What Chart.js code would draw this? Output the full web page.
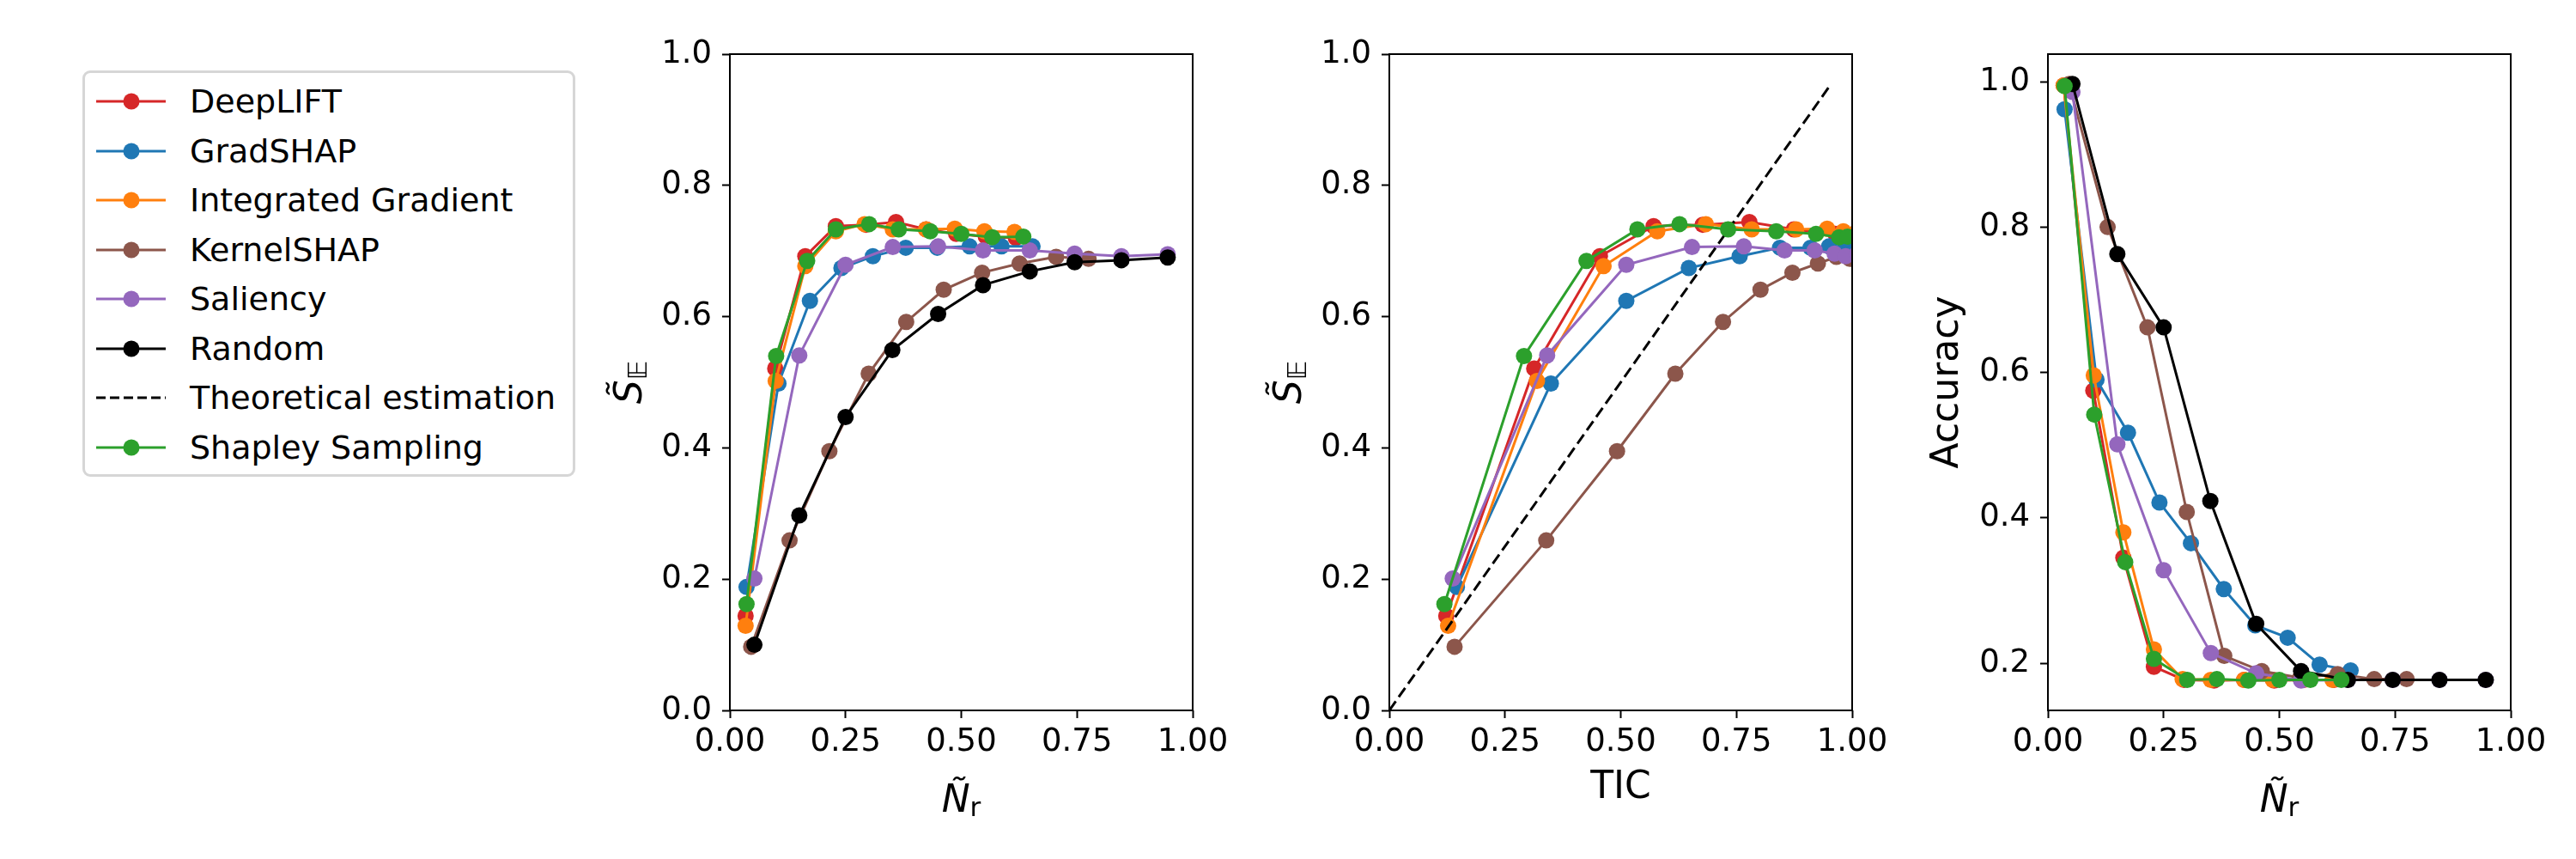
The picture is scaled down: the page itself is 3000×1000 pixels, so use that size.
<!DOCTYPE html>
<html>
<head>
<meta charset="utf-8">
<script src="https://cdn.jsdelivr.net/npm/chart.js@4.4.1/dist/chart.umd.min.js"></script>
<style>
html, body { margin: 0; padding: 0; background: #fff; }
#wrap { position: relative; width: 3000px; height: 1000px; overflow: hidden; background: #fff; font-family: "DejaVu Sans", sans-serif; }
#wrap canvas { position: absolute; top: 0; width: 800px; height: 1000px; }
#legend { position: absolute; left: 96px; top: 82px; width: 574px; height: 473px; box-sizing: border-box;
  border: 3px solid #d6d6d6; border-radius: 9px; background: #fff; }
.lrow { position: absolute; left: 0; height: 50px; width: 100%; }
.lrow svg { position: absolute; left: 10px; top: 0; }
.lrow span { position: absolute; left: 122px; top: 0; line-height: 50px; font-size: 38px; color: #000; white-space: nowrap; font-family: "DejaVu Sans", sans-serif; }
</style>
</head>
<body>
<div id="wrap">
  <canvas id="c1" width="800" height="1000" style="left:650px"></canvas>
  <canvas id="c2" width="800" height="1000" style="left:1418px"></canvas>
  <canvas id="c3" width="800" height="1000" style="left:2185px"></canvas>
  <div id="legend"></div>
</div>
<script>
// ---------- data ----------
const methodNames  = ['DeepLIFT', 'GradSHAP', 'Integrated Gradient', 'KernelSHAP', 'Saliency', 'Random', 'Shapley Sampling'];
const methodColors = ['#d62728', '#1f77b4', '#ff7f0e', '#8c564b', '#9467bd', '#000000', '#2ca02c'];
const theoName  = 'Theoretical estimation';

// normalized number of removed features (x of panels 1 and 3)
const nrDeepLIFT   = [0.034, 0.098, 0.163, 0.229, 0.294, 0.359, 0.424, 0.489, 0.553, 0.618];
const nrGradSHAP   = [0.036, 0.105, 0.173, 0.241, 0.309, 0.380, 0.448, 0.518, 0.587, 0.654];
const nrIG         = [0.034, 0.099, 0.163, 0.229, 0.291, 0.352, 0.424, 0.486, 0.550, 0.615];
const nrKernelSHAP = [0.046, 0.129, 0.215, 0.300, 0.381, 0.462, 0.545, 0.626, 0.705, 0.775];
const nrSaliency   = [0.053, 0.150, 0.250, 0.352, 0.450, 0.547, 0.648, 0.745, 0.846, 0.946];
const nrRandom     = [0.053, 0.150, 0.250, 0.351, 0.450, 0.547, 0.648, 0.745, 0.846, 0.946];
const nrShapley    = [0.036, 0.100, 0.167, 0.229, 0.301, 0.365, 0.433, 0.500, 0.567, 0.634];

// S_E values (y of panels 1 and 2)
const seDeepLIFT   = [0.144, 0.521, 0.692, 0.738, 0.740, 0.744, 0.733, 0.726, 0.722, 0.720];
const seGradSHAP   = [0.188, 0.498, 0.624, 0.674, 0.692, 0.705, 0.705, 0.707, 0.707, 0.707];
const seIG         = [0.129, 0.502, 0.677, 0.730, 0.741, 0.733, 0.733, 0.734, 0.730, 0.729];
const seKernelSHAP = [0.097, 0.259, 0.395, 0.513, 0.592, 0.641, 0.667, 0.681, 0.691, 0.688];
const seSaliency   = [0.201, 0.541, 0.679, 0.706, 0.707, 0.701, 0.701, 0.696, 0.692, 0.695];
const seRandom     = [0.100, 0.297, 0.447, 0.549, 0.604, 0.648, 0.669, 0.683, 0.686, 0.690];
const seShapley    = [0.162, 0.540, 0.685, 0.733, 0.741, 0.733, 0.730, 0.726, 0.721, 0.722];

// TIC values (x of panel 2)
const ticDeepLIFT   = [0.123, 0.313, 0.455, 0.571, 0.677, 0.778, 0.874, 0.964, 1.050, 1.130];
const ticGradSHAP   = [0.146, 0.349, 0.512, 0.647, 0.757, 0.844, 0.910, 0.950, 0.985, 1.010];
const ticIG         = [0.127, 0.319, 0.463, 0.579, 0.684, 0.783, 0.879, 0.946, 0.981, 1.010];
const ticKernelSHAP = [0.141, 0.339, 0.492, 0.618, 0.721, 0.802, 0.871, 0.926, 0.966, 0.995];
const ticSaliency   = [0.137, 0.341, 0.512, 0.654, 0.766, 0.854, 0.919, 0.962, 0.986, 1.010];
const ticShapley    = [0.119, 0.291, 0.426, 0.536, 0.627, 0.732, 0.836, 0.922, 0.972, 0.990];
const theoX = [0.0, 0.95];
const theoY = [0.0, 0.95];

// accuracy values (y of panel 3)
const accDeepLIFT   = [0.995, 0.575, 0.345, 0.195, 0.177, 0.176, 0.177, 0.176, 0.177, 0.177];
const accGradSHAP   = [0.962, 0.590, 0.517, 0.421, 0.365, 0.302, 0.252, 0.235, 0.198, 0.190];
const accIG         = [0.995, 0.596, 0.380, 0.219, 0.178, 0.177, 0.177, 0.177, 0.177, 0.177];
const accKernelSHAP = [0.997, 0.800, 0.662, 0.408, 0.210, 0.189, 0.180, 0.185, 0.178, 0.178];
const accSaliency   = [0.986, 0.501, 0.328, 0.214, 0.186, 0.176, 0.177, 0.177, 0.177, 0.177];
const accRandom     = [0.997, 0.763, 0.662, 0.423, 0.254, 0.189, 0.177, 0.177, 0.177, 0.177];
const accShapley    = [0.994, 0.542, 0.339, 0.206, 0.177, 0.178, 0.176, 0.177, 0.177, 0.177];

// ticks
const xTickValues = [0, 0.25, 0.5, 0.75, 1.0];
const xTickLabels = ['0.00', '0.25', '0.50', '0.75', '1.00'];
const yTickValues = [0, 0.2, 0.4, 0.6, 0.8, 1.0];
const yTickLabels = ['0.0', '0.2', '0.4', '0.6', '0.8', '1.0'];
const accTickValues = [0.2, 0.4, 0.6, 0.8, 1.0];
const accTickLabels = ['0.2', '0.4', '0.6', '0.8', '1.0'];
const accRange = [0.135, 1.038];

// axis titles
const labelNr  = [{ t: 'N\u0303', font: 'italic 44px "DejaVu Sans"' }, { t: 'r', font: '31px "DejaVu Sans"', dy: 5 }];
const labelSE  = [{ t: 'S\u0303', font: 'italic 44px "DejaVu Sans"' }, { t: '\u{1D53C}', font: 'italic 31px "DejaVu Sans"', dy: 6 }];
const labelTIC = [{ t: 'TIC', font: '44px "DejaVu Sans"' }];
const labelAcc = [{ t: 'Accuracy', font: '44px "DejaVu Sans"' }];

// ---------- helpers ----------
const nrAll  = [nrDeepLIFT, nrGradSHAP, nrIG, nrKernelSHAP, nrSaliency, nrRandom, nrShapley];
const seAll  = [seDeepLIFT, seGradSHAP, seIG, seKernelSHAP, seSaliency, seRandom, seShapley];
const accAll = [accDeepLIFT, accGradSHAP, accIG, accKernelSHAP, accSaliency, accRandom, accShapley];
const ticAll = [ticDeepLIFT, ticGradSHAP, ticIG, ticKernelSHAP, ticSaliency, null, ticShapley];

function pts(xs, ys) { return xs.map((x, i) => ({ x: x, y: ys[i] })); }

function methodDataset(i, xs, ys) {
  const c = methodColors[i];
  return {
    label: methodNames[i], data: pts(xs, ys), showLine: true,
    borderColor: c, backgroundColor: c, borderWidth: 3,
    pointRadius: 9.5, pointHoverRadius: 9.5, pointBorderWidth: 0,
    pointBackgroundColor: c, pointBorderColor: c
  };
}
function theoDataset() {
  return {
    label: theoName, data: pts(theoX, theoY), showLine: true,
    borderColor: '#000', borderWidth: 3, borderDash: [13, 6],
    pointRadius: 0, pointHoverRadius: 0
  };
}
function setOrder(list) { list.forEach((d, i) => { d.order = list.length - i; }); return list; }

function drawSegs(ctx, segs, cx, by) {
  let total = 0;
  const ws = segs.map(s => { ctx.font = s.font; const w = ctx.measureText(s.t).width; total += w; return w; });
  let x = cx - total / 2;
  segs.forEach((s, i) => { ctx.font = s.font; ctx.fillText(s.t, x, by + (s.dy || 0)); x += ws[i]; });
}

const labelSpecs = {
  c1: { x: labelNr,  xOff: 118, y: labelSE,  yOff: 103 },
  c2: { x: labelTIC, xOff: 102, y: labelSE,  yOff: 103 },
  c3: { x: labelNr,  xOff: 118, y: labelAcc, yOff: 105 }
};

const framePlugin = {
  id: 'frameAndLabels',
  afterDraw(chart) {
    const { ctx, chartArea: a } = chart;
    const spec = labelSpecs[chart.canvas.id];
    ctx.save();
    ctx.strokeStyle = '#000';
    ctx.lineWidth = 2;
    ctx.strokeRect(a.left, a.top, a.right - a.left, a.bottom - a.top);
    ctx.fillStyle = '#000';
    ctx.textAlign = 'left';
    ctx.textBaseline = 'alphabetic';
    drawSegs(ctx, spec.x, (a.left + a.right) / 2, a.bottom + spec.xOff);
    ctx.translate(a.left - spec.yOff, (a.top + a.bottom) / 2);
    ctx.rotate(-Math.PI / 2);
    drawSegs(ctx, spec.y, 0, 0);
    ctx.restore();
  }
};

const tickFont = { family: 'DejaVu Sans', size: 37 };

function makeScales(yVals, yLabels, yMin, yMax) {
  return {
    x: {
      type: 'linear', min: 0, max: 1, offset: false,
      afterBuildTicks: s => { s.ticks = xTickValues.map(v => ({ value: v })); },
      afterFit: s => { s.height = 173; },
      ticks: { font: tickFont, color: '#000', padding: 6, maxRotation: 0, autoSkip: false,
               callback: (v, i) => xTickLabels[i] },
      grid: { drawOnChartArea: false, drawTicks: true, tickLength: 9, tickWidth: 2, tickColor: '#000' },
      border: { display: false }
    },
    y: {
      type: 'linear', min: yMin, max: yMax,
      afterBuildTicks: s => { s.ticks = yVals.map(v => ({ value: v })); },
      afterFit: s => { s.width = 200; },
      ticks: { font: tickFont, color: '#000', padding: 12, autoSkip: false,
               callback: (v, i) => yLabels[i] },
      grid: { drawOnChartArea: false, drawTicks: true, tickLength: 9, tickWidth: 2, tickColor: '#000' },
      border: { display: false }
    }
  };
}

function makeChart(id, datasets, scales) {
  return new Chart(document.getElementById(id), {
    type: 'scatter',
    data: { datasets: datasets },
    options: {
      responsive: false, animation: false, devicePixelRatio: 1,
      layout: { padding: { left: 0, right: 61, top: 63, bottom: 0 } },
      plugins: { legend: { display: false }, tooltip: { enabled: false } },
      events: [],
      scales: scales
    },
    plugins: [framePlugin]
  });
}

// ---------- panel 1 ----------
const ds1 = setOrder(methodNames.map((n, i) => methodDataset(i, nrAll[i], seAll[i])));
makeChart('c1', ds1, makeScales(yTickValues, yTickLabels, 0, 1));

// ---------- panel 2 ----------
const ds2 = [];
[0, 1, 2, 3, 4].forEach(i => ds2.push(methodDataset(i, ticAll[i], seAll[i])));
ds2.push(theoDataset());
ds2.push(methodDataset(6, ticAll[6], seAll[6]));
setOrder(ds2);
makeChart('c2', ds2, makeScales(yTickValues, yTickLabels, 0, 1));

// ---------- panel 3 ----------
const ds3 = setOrder(methodNames.map((n, i) => methodDataset(i, nrAll[i], accAll[i])));
makeChart('c3', ds3, makeScales(accTickValues, accTickLabels, accRange[0], accRange[1]));

// ---------- legend ----------
const legendItems = [];
methodNames.forEach((n, i) => { if (i < 6) legendItems.push({ name: n, color: methodColors[i], marker: true, dash: false }); });
legendItems.push({ name: theoName, color: '#000', marker: false, dash: true });
legendItems.push({ name: methodNames[6], color: methodColors[6], marker: true, dash: false });

const leg = document.getElementById('legend');
legendItems.forEach((it, k) => {
  const row = document.createElement('div');
  row.className = 'lrow';
  row.style.top = (29 + 4 - 25 + k * 57.5) + 'px';
  const dashAttr = it.dash ? ' stroke-dasharray="11,5"' : '';
  const mk = it.marker ? `<circle cx="44" cy="25" r="9.5" fill="${it.color}"/>` : '';
  row.innerHTML = `<svg width="90" height="50" viewBox="0 0 90 50"><line x1="3" y1="25" x2="84" y2="25" stroke="${it.color}" stroke-width="3"${dashAttr}/>${mk}</svg><span>${it.name}</span>`;
  leg.appendChild(row);
});
</script>
</body>
</html>
